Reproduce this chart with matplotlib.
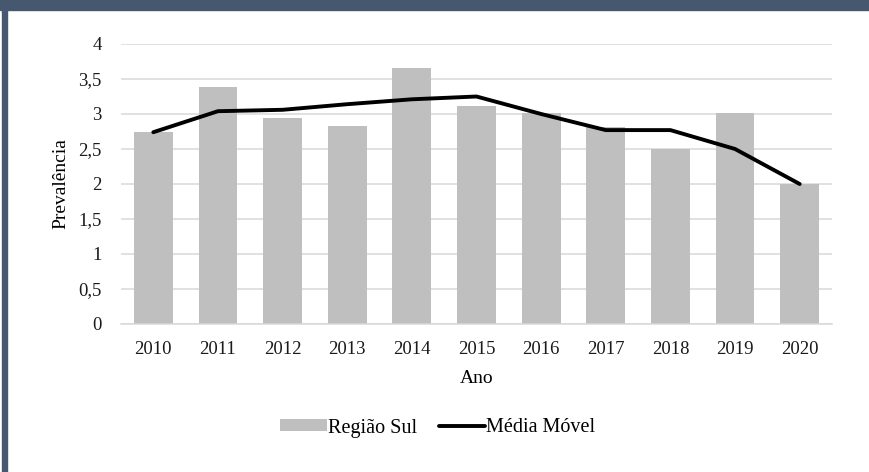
import numpy as np
import matplotlib
matplotlib.use('Agg')
import matplotlib.pyplot as plt
from matplotlib.patches import Rectangle

anos = ['2010', '2011', '2012', '2013', '2014', '2015', '2016', '2017', '2018', '2019', '2020']
regiao_sul = [2.75, 3.39, 2.95, 2.83, 3.66, 3.12, 3.01, 2.81, 2.50, 3.01, 2.00]
media_movel = [2.74, 3.04, 3.06, 3.14, 3.21, 3.25, 3.00, 2.77, 2.77, 2.50, 2.00]
y_ticks = [0, 0.5, 1, 1.5, 2, 2.5, 3, 3.5, 4]
y_labels = ['0', '0,5', '1', '1,5', '2', '2,5', '3', '3,5', '4']

plt.rcParams['font.family'] = ['Liberation Serif', 'DejaVu Serif']

W, H = 869, 472
fig = plt.figure(figsize=(W / 100, H / 100), dpi=100)
ax = fig.add_axes([121 / W, 1 - 324 / H, (832 - 121) / W, (324 - 44) / H])

x = np.arange(len(anos))
bars = ax.bar(x, regiao_sul, width=0.6, color='#bfbfbf', label='Região Sul', zorder=2)
line, = ax.plot(x, media_movel, color='black', lw=2.8, label='Média Móvel', zorder=3,
                solid_capstyle='round', solid_joinstyle='round')

ax.set_xlim(-0.5, len(anos) - 0.5)
ax.set_ylim(0, 4)
ax.set_xticks(x)
ax.set_xticklabels(anos)
ax.set_yticks(y_ticks)
ax.set_yticklabels(y_labels)
ax.tick_params(length=0, labelsize=13.5, colors='#1a1a1a')
ax.tick_params(axis='x', pad=12)
ax.tick_params(axis='y', pad=14)
ax.grid(axis='y', color='#d9d9d9', lw=1.1, zorder=0)
for s in ['top', 'right', 'left']:
    ax.spines[s].set_visible(False)
ax.spines['bottom'].set_color('#d9d9d9')
ax.spines['bottom'].set_linewidth(1.1)

ax.set_xlabel('Ano', fontsize=14, labelpad=9)
ax.set_ylabel('Prevalência', fontsize=14, labelpad=6)

fig.legend([bars, line], ['Região Sul', 'Média Móvel'], loc='center',
           bbox_to_anchor=(0.504, 1 - 428 / H), ncol=2, frameon=False,
           fontsize=14.5, handlelength=2.3, handletextpad=0.05, columnspacing=1.1,
           handleheight=0.55)

# dark frame bands at the top and left edge
fig.patches.append(Rectangle((0, 1 - 10 / H), 1, 10 / H, transform=fig.transFigure,
                             color='#465870', zorder=10))
fig.patches.append(Rectangle((2 / W, 0), 4.5 / W, 1, transform=fig.transFigure,
                             color='#465870', zorder=10))

fig.savefig('out.png', dpi=100)
